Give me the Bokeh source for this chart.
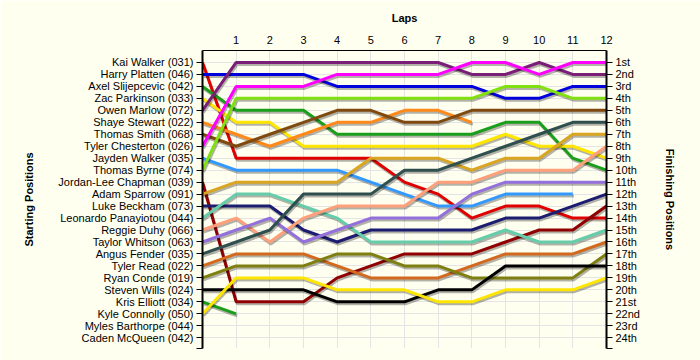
from bokeh.plotting import figure
from bokeh.models import LinearAxis, FixedTicker, Range1d
from bokeh.embed import file_html
from bokeh.resources import INLINE

# ---- data ----
laps = list(range(13))
drivers = ["Kai Walker (031)", "Harry Platten (046)", "Axel Slijepcevic (042)", "Zac Parkinson (033)",
           "Owen Marlow (072)", "Shaye Stewart (022)", "Thomas Smith (068)", "Tyler Chesterton (026)",
           "Jayden Walker (035)", "Thomas Byrne (074)", "Jordan-Lee Chapman (039)", "Adam Sparrow (091)",
           "Luke Beckham (073)", "Leonardo Panayiotou (044)", "Reggie Duhy (066)", "Taylor Whitson (063)",
           "Angus Fender (035)", "Tyler Read (022)", "Ryan Conde (019)", "Steven Wills (024)",
           "Kris Elliott (034)", "Kyle Connolly (050)", "Myles Barthorpe (044)", "Caden McQueen (042)"]
finish_labels = ["1st", "2nd", "3rd", "4th", "5th", "6th", "7th", "8th", "9th", "10th", "11th", "12th",
                 "13th", "14th", "15th", "16th", "17th", "18th", "19th", "20th", "21st", "22nd", "23rd", "24th"]

kai_walker = [1, 9, 9, 9, 9, 9, 11, 12, 14, 13, 13, 14, 14]
harry_platten = [2, 2, 2, 2, 3, 3, 3, 3, 3, 4, 4, 3, 3]
axel_slijepcevic = [3, 5, 5, 5, 7, 7, 7, 7, 7, 6, 6, 9, 10]
zac_parkinson = [4, 6, 6, 8, 8, 8, 8, 8, 8, 7, 8, 8, 9]
owen_marlow = [5, 1, 1, 1, 1, 1, 1, 1, 2, 2, 1, 2, 2]
shaye_stewart = [6, 7, 8, 7, 6, 6, 5, 5, 6]
thomas_smith = [7, 8, 7, 6, 5, 5, 6, 6, 5, 5, 5, 5, 5]
tyler_chesterton = [8, 3, 3, 3, 2, 2, 2, 2, 1, 1, 2, 1, 1]
jayden_walker = [9, 10, 10, 10, 10, 11, 12, 13, 13, 12, 12, 12]
thomas_byrne = [10, 4, 4, 4, 4, 4, 4, 4, 4, 3, 3, 4, 4]
jordan_lee_chapman = [11, 21, 21, 21, 19, 18, 17, 17, 17, 16, 15, 15, 13]
adam_sparrow = [12, 11, 11, 11, 11, 9, 9, 9, 10, 9, 9, 7, 7]
luke_beckham = [13, 13, 13, 15, 16, 15, 15, 15, 15, 14, 14, 13, 12]
leonardo_panayiotou = [14, 12, 12, 13, 14, 16, 16, 16, 16, 15, 16, 16, 15]
reggie_duhy = [15, 14, 16, 14, 13, 13, 13, 11, 11, 10, 10, 10, 8]
taylor_whitson = [16, 15, 14, 16, 15, 14, 14, 14, 12, 11, 11, 11, 11]
angus_fender = [17, 16, 15, 12, 12, 12, 10, 10, 9, 8, 7, 6, 6]
tyler_read = [18, 17, 17, 17, 18, 19, 19, 19, 18, 17, 17, 17, 16]
ryan_conde = [19, 18, 18, 18, 17, 17, 18, 18, 19, 19, 19, 19, 17]
steven_wills = [20, 20, 20, 20, 21, 21, 21, 20, 20, 18, 18, 18, 18]
kris_elliott = [21, 22]
kyle_connolly = [22, 19, 19, 19, 20, 20, 20, 21, 21, 20, 20, 20, 19]

series = [kai_walker, harry_platten, axel_slijepcevic, zac_parkinson, owen_marlow, shaye_stewart,
          thomas_smith, tyler_chesterton, jayden_walker, thomas_byrne, jordan_lee_chapman, adam_sparrow,
          luke_beckham, leonardo_panayiotou, reggie_duhy, taylor_whitson, angus_fender, tyler_read,
          ryan_conde, steven_wills, kris_elliott, kyle_connolly]

colors = ["#E00000", "#0000DD", "#1B9E1B", "#FFE600", "#7A1E78", "#FF8A1A", "#7F4A10", "#FF00FF",
          "#3399FF", "#80E010", "#900000", "#DAA520", "#1C1C70", "#66CDAA", "#FFA07A", "#9370DB",
          "#2F4F4F", "#D2691E", "#7F7F10", "#000000", "#1B9E1B", "#FFE600"]

BG = "#FFFFF0"
FONT = "Liberation Sans"
n_pos = len(drivers)
y_bottom = n_pos + 0.9

p = figure(frame_width=404, frame_height=298,
           x_range=Range1d(laps[0], laps[-1]), y_range=Range1d(y_bottom, 0),
           x_axis_location="above", y_axis_location="left",
           output_backend="svg", toolbar_location=None,
           min_border_left=202, min_border_top=50, min_border_right=94, min_border_bottom=12,
           background_fill_color=BG, border_fill_color=BG, outline_line_color=None)

# shadow offsets (1px right, 2px down) in data units
dx = 1.0 / (404 / (laps[-1] - laps[0]))
dy = 2.0 / (298 / y_bottom)

for i, ys in enumerate(series):
    xs = laps[:len(ys)]
    p.line([x + dx for x in xs], [y + dy for y in ys], line_color="#000000", line_alpha=0.3,
           line_width=3)
    p.line(xs, ys, line_color=colors[i], line_width=3)

# grids
p.xgrid.ticker = FixedTicker(ticks=laps[1:])
p.ygrid.ticker = FixedTicker(ticks=list(range(1, n_pos + 1)))
p.xgrid.grid_line_color = "#E4E4E4"
p.ygrid.grid_line_color = "#E4E4E4"

# top axis
xa = p.xaxis[0]
xa.ticker = FixedTicker(ticks=laps[1:])
xa.axis_label = "Laps"
xa.major_tick_out = 0
xa.major_tick_in = 0
xa.minor_tick_out = 0
xa.minor_tick_in = 0
xa.major_label_standoff = 7
xa.axis_label_standoff = 9

# left axis
ya = p.yaxis[0]
yticks = list(range(1, n_pos + 1)) + [y_bottom]
ya.ticker = FixedTicker(ticks=yticks)
ov = {i + 1: drivers[i] for i in range(n_pos)}
ov[y_bottom] = ""
ya.major_label_overrides = ov
ya.axis_label = "Starting Positions"
ya.axis_label_standoff = 20

# right axis
ra = LinearAxis(y_range_name="default")
ra.ticker = FixedTicker(ticks=yticks)
ov2 = {i + 1: finish_labels[i] for i in range(n_pos)}
ov2[y_bottom] = ""
ra.major_label_overrides = ov2
ra.axis_label = "Finishing Positions"
ra.axis_label_standoff = 21
p.add_layout(ra, "right")

for ax in [ya, ra]:
    ax.major_tick_out = 6
    ax.major_tick_in = 0
    ax.minor_tick_out = 0
    ax.minor_tick_in = 0
    ax.major_label_standoff = 3
    ax.axis_line_width = 2

for ax in [xa, ya, ra]:
    ax.axis_line_color = "#000000"
    ax.major_tick_line_color = "#000000"
    ax.major_label_text_font = FONT
    ax.major_label_text_font_size = "11px"
    ax.major_label_text_color = "#000000"
    ax.axis_label_text_font = FONT
    ax.axis_label_text_font_size = "11px"
    ax.axis_label_text_font_style = "bold"
    ax.axis_label_text_color = "#000000"

open("out.html", "w").write(file_html(p, INLINE))
